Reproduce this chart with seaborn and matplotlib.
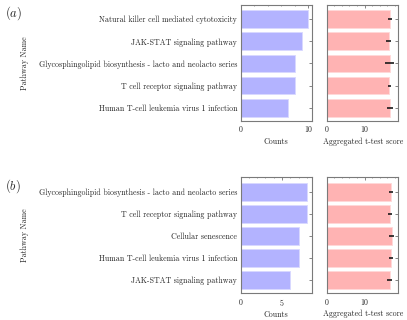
import matplotlib
matplotlib.use("Agg")
import matplotlib.pyplot as plt
import seaborn as sns
import pandas as pd
from matplotlib.ticker import AutoMinorLocator

sns.set_theme(style="white")
plt.rcParams.update({
    "font.family": ["cmr10", "DejaVu Serif"],
    "mathtext.fontset": "cm",
    "axes.formatter.use_mathtext": True,
    "font.size": 5.7,
})

paths_a = ["Natural killer cell mediated cytotoxicity", "JAK-STAT signaling pathway",
           "Glycosphingolipid biosynthesis - lacto and neolacto series",
           "T cell receptor signaling pathway", "Human T-cell leukemia virus 1 infection"]
counts_a = [10, 9, 8, 8, 7]
score_a = [16.7, 16.4, 16.7, 16.6, 16.7]
err_a = [0.6, 0.6, 1.2, 0.5, 0.8]

paths_b = ["Glycosphingolipid biosynthesis - lacto and neolacto series",
           "T cell receptor signaling pathway", "Cellular senescence",
           "Human T-cell leukemia virus 1 infection", "JAK-STAT signaling pathway"]
counts_b = [8, 8, 7, 7, 6]
score_b = [17.0, 16.8, 17.2, 17.0, 16.7]
err_b = [0.6, 0.5, 0.6, 0.6, 0.7]

panels = [("(a)", paths_a, counts_a, score_a, err_a, 0.622, 10.5, [0, 10]),
          ("(b)", paths_b, counts_b, score_b, err_b, 0.083, 8.57, [0, 5])]

fig = plt.figure(figsize=(4.07, 3.20), dpi=100)
blue = "#b3b3ff"
red = "#ffb3b3"
spine_c = "#7a7a7a"
fs = 5.7

def style(ax):
    for s in ax.spines.values():
        s.set_color(spine_c)
        s.set_linewidth(0.8)
    ax.tick_params(direction="in", top=True, right=True, length=2, width=0.5,
                   color="#555555", labelsize=fs, pad=2.5)
    ax.tick_params(which="minor", direction="in", top=True, right=True, length=1,
                   width=0.4, color="#555555")
    ax.xaxis.set_minor_locator(AutoMinorLocator(5))

for lab, paths, counts, score, err, bottom, cmax, cticks in panels:
    df = pd.DataFrame({"Pathway Name": paths, "Counts": counts, "Score": score, "Err": err})
    ax1 = fig.add_axes([0.591, bottom, 0.175, 0.363])
    ax2 = fig.add_axes([0.803, bottom, 0.176, 0.363])
    sns.barplot(data=df, x="Counts", y="Pathway Name", ax=ax1, color=blue,
                saturation=1, width=0.8, edgecolor="#d8d8ff", linewidth=0.6)
    sns.barplot(data=df, x="Score", y="Pathway Name", ax=ax2, color=red,
                saturation=1, width=0.8, edgecolor="#ffd8d8", linewidth=0.6)
    ax2.errorbar(df["Score"], range(len(df)), xerr=df["Err"], fmt="none",
                 ecolor="#1a1a1a", elinewidth=1.2, capsize=0)
    for ax in (ax1, ax2):
        ax.set_ylim(4.6, -0.65)
        style(ax)
    ax1.set_xlim(0, cmax)
    ax1.set_xticks(cticks)
    ax2.set_xlim(0, 19)
    ax2.set_xticks([0, 10])
    ax1.set_xlabel("Counts", fontsize=fs, labelpad=2)
    ax2.set_xlabel("Aggregated t-test score", fontsize=fs, labelpad=2)
    ax1.set_ylabel("Pathway Name", fontsize=fs)
    ax1.yaxis.set_label_coords(-2.97, 0.5)
    ax2.set_ylabel("")
    ax2.set_yticklabels([])
    fig.text(0.012, bottom + 0.363 - 0.027, r"$(%s)$" % lab[1], fontsize=9, va="center")

fig.savefig("out.png", dpi=100)
